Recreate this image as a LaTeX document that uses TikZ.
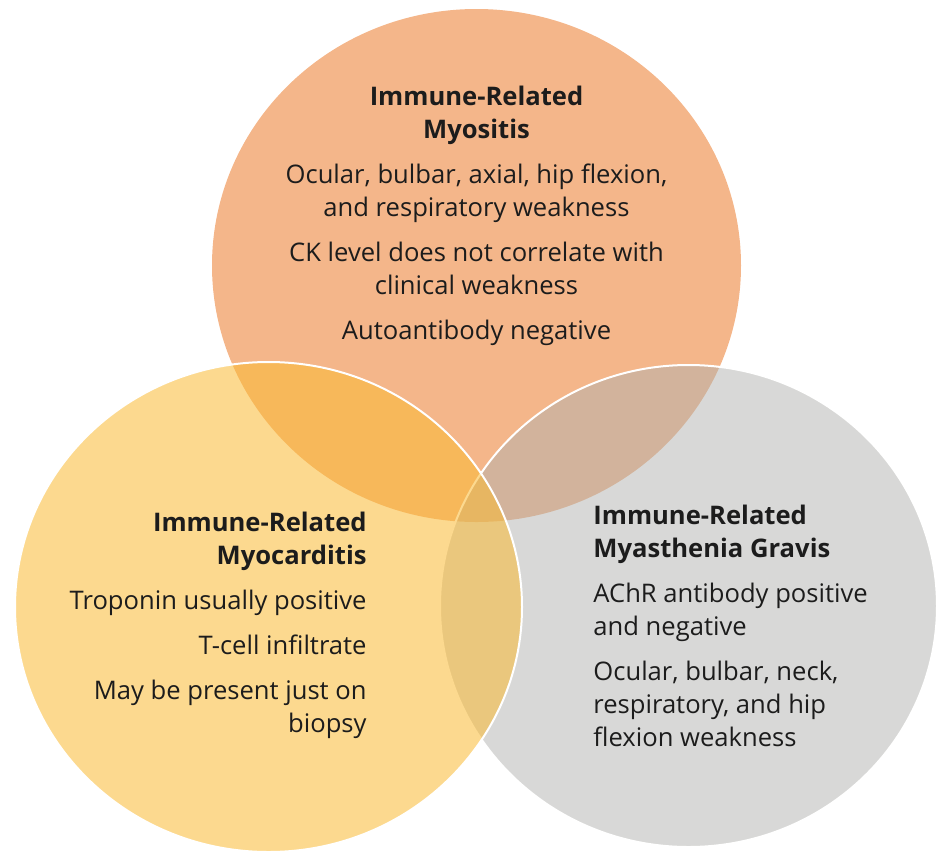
\documentclass[tikz,border=0pt]{standalone}
\usepackage{fontspec}
\setmainfont{Open Sans}
\usepackage{xcolor}
\definecolor{myoOrange}{HTML}{F4B68A}
\definecolor{mgGrey}{HTML}{B2B2AF}
\definecolor{carYellow}{HTML}{FABA33}
\definecolor{ink}{HTML}{1C1C1C}

\begin{document}
\begin{tikzpicture}[x=0.5pt,y=-0.5pt,
    txt/.style={text=ink,inner sep=0pt,font=\fontsize{12.8}{16.5}\selectfont},
    rim/.style={draw=white,line width=1pt}]
    \useasboundingbox (0,0) rectangle (938,853);
    % the three discs, myositis at the back
    \fill[myoOrange] (476.5,265.5) circle[x radius=264.5,y radius=256.5];
    \filldraw[rim,fill=mgGrey,fill opacity=0.5] (688.5,606) circle[x radius=248.5,y radius=241];
    \filldraw[rim,fill=carYellow,fill opacity=0.55] (268.5,607) circle[x radius=253.5,y radius=245];
    % labels
    \node[txt,align=center,anchor=north] (myositis) at (476.5,86)
        {\textbf{Immune-Related}\\\textbf{Myositis}\\[6pt]
         Ocular, bulbar, axial, hip flexion,\\and respiratory weakness\\[6pt]
         CK level does not correlate with\\clinical weakness\\[6pt]
         Autoantibody negative};
    \node[txt,align=right,anchor=north east] (myocarditis) at (367,512)
        {\textbf{Immune-Related}\\\textbf{Myocarditis}\\[6pt]
         Troponin usually positive\\[6pt]
         T-cell infiltrate\\[6pt]
         May be present just on\\biopsy};
    \node[txt,align=left,anchor=north west] (mg) at (593,505)
        {\textbf{Immune-Related}\\\textbf{Myasthenia Gravis}\\[6pt]
         AChR antibody positive\\and negative\\[6pt]
         Ocular, bulbar, neck,\\respiratory, and hip\\flexion weakness};
\end{tikzpicture}
\end{document}
